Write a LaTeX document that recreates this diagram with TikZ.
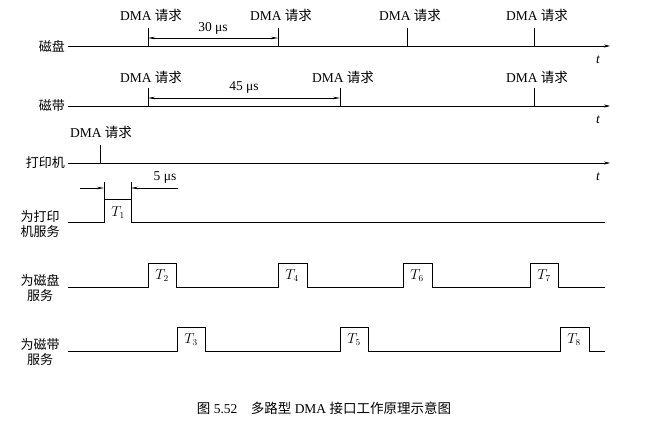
\documentclass[tikz,border=0pt]{standalone}
\usepackage{fontspec}
\setmainfont{Liberation Serif}
\newfontfamily\cjk{Noto Sans CJK SC}
\usetikzlibrary{arrows.meta}
\begin{document}
\begin{tikzpicture}[x=1pt,y=-1pt,
  ax/.style={line width=0.6pt,-{Stealth[length=6pt,width=3pt]}},
  tk/.style={line width=0.8pt},
  sig/.style={line width=1pt},
  dim/.style={line width=0.5pt,{Stealth[length=7pt,width=2.5pt]}-{Stealth[length=7pt,width=2.5pt]}},
  lb/.style={font=\fontsize{13.5}{14}\selectfont,inner sep=1pt},
  cl/.style={font=\fontsize{13}{15}\selectfont\cjk,inner sep=1pt,align=center}]
\useasboundingbox (0,0) rectangle (645,427);
% disk
\coordinate (d0) at (68,46); \coordinate (d1) at (610,46);
\draw[ax] (d0) -- (d1);
\node[lb,font=\fontsize{13.5}{14}\selectfont\itshape] (dt) at (598,60) {t};
\node[cl,anchor=east] (dl) at (66,46) {磁盘};
\foreach \x/\n in {148/a,278/b,407/c,534/d}{
  \coordinate (dk\n) at (\x,28); \coordinate (db\n) at (\x,46);
  \draw[tk] (dk\n) -- (db\n);
  \node[lb] (dr\n) at (\x+3,15) {DMA {\cjk 请求}};}
\coordinate (da1) at (148,38); \coordinate (da2) at (278,38);
\draw[dim] (da1) -- (da2);
\node[lb] (d30) at (213,28) {30 μs};
% tape
\coordinate (t0) at (68,106); \coordinate (t1) at (610,106);
\draw[ax] (t0) -- (t1);
\node[lb,font=\fontsize{13.5}{14}\selectfont\itshape] (tt) at (598,120) {t};
\node[cl,anchor=east] (tl) at (66,106) {磁带};
\foreach \x/\n in {148/a,340/b,534/c}{
  \coordinate (tk\n) at (\x,88); \coordinate (tb\n) at (\x,106);
  \draw[tk] (tk\n) -- (tb\n);
  \node[lb] (tr\n) at (\x+3,77) {DMA {\cjk 请求}};}
\coordinate (ta1) at (148,98); \coordinate (ta2) at (340,98);
\draw[dim] (ta1) -- (ta2);
\node[lb] (t45) at (244,88) {45 μs};
% printer
\coordinate (p0) at (68,163); \coordinate (p1) at (610,163);
\draw[ax] (p0) -- (p1);
\node[lb,font=\fontsize{13.5}{14}\selectfont\itshape] (pt) at (598,177) {t};
\node[cl,anchor=east] (pl) at (66,163) {打印机};
\coordinate (pk) at (100,145); \coordinate (pb) at (100,163);
\draw[tk] (pk) -- (pb);
\node[lb] (pr) at (101,132) {DMA {\cjk 请求}};
% 5us
\coordinate (f1) at (104,182); \coordinate (f2) at (104,200);
\coordinate (g1) at (131,182); \coordinate (g2) at (131,200);
\draw[line width=0.5pt] (f1) -- (f2) (g1) -- (g2);
\coordinate (h0) at (80,188); \coordinate (h1) at (104,188);
\coordinate (h2) at (178,188); \coordinate (h3) at (131,188);
\draw[line width=0.5pt,-{Stealth[length=7pt,width=2.5pt]}] (h0) -- (h1);
\draw[line width=0.5pt,-{Stealth[length=7pt,width=2.5pt]}] (h2) -- (h3);
\node[lb] (p5) at (165,178) {5 μs};
% service signals
\node[cl] (sp) at (40,224) {为打印\\机服务};
\draw[sig] (68,223) -- (104,223) |- (131,200) |- (605,223);
\node[lb] (T1) at (118,213) {$T_1$};
\node[cl] (sd) at (40,288) {为磁盘\\服务};
\draw[sig] (68,288) -- (148,288) |- (176,264) |- (278,288) |- (307,264) |- (403,288) |- (432,264) |- (530,288) |- (558,264) |- (605,288);
\node[lb] (T2) at (162,276) {$T_2$};
\node[lb] (T4) at (292,276) {$T_4$};
\node[lb] (T6) at (417,276) {$T_6$};
\node[lb] (T7) at (544,276) {$T_7$};
\node[cl] (st) at (40,352) {为磁带\\服务};
\draw[sig] (68,352) -- (177,352) |- (205,328) |- (340,352) |- (368,328) |- (560,352) |- (589,328) |- (605,352);
\node[lb] (T3) at (191,340) {$T_3$};
\node[lb] (T5) at (354,340) {$T_5$};
\node[lb] (T8) at (574,340) {$T_8$};
\node[lb] (cap) at (324,408) {{\cjk 图} 5.52\quad {\cjk 多路型} DMA {\cjk 接口工作原理示意图}};
\end{tikzpicture}
\end{document}
